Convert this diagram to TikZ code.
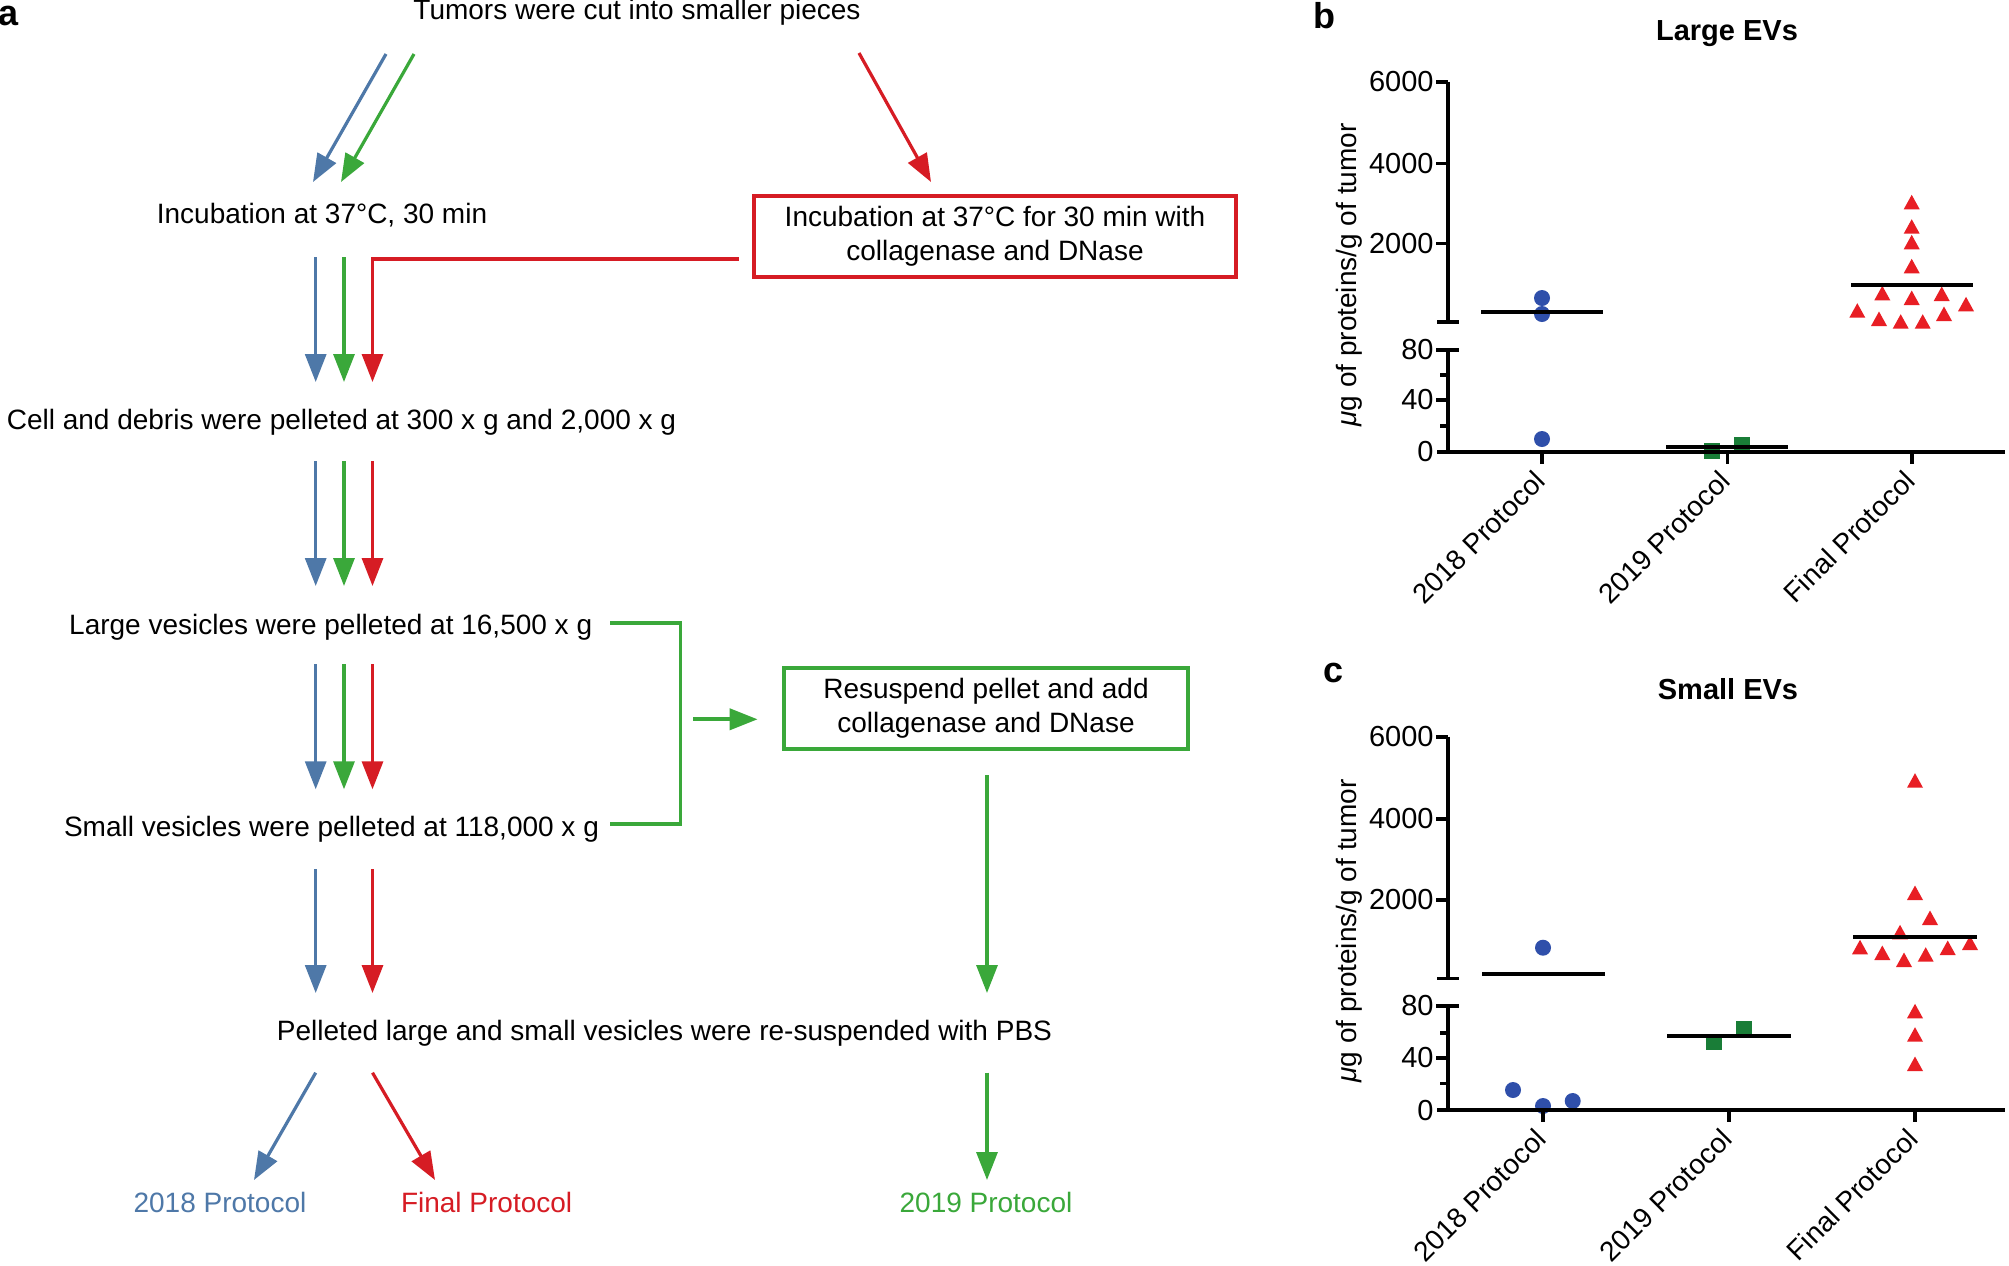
\documentclass[tikz,border=0pt]{standalone}
\usepackage{fontspec}
\setmainfont{Liberation Sans}
\usetikzlibrary{arrows.meta}
\definecolor{cblue}{RGB}{78,120,168}
\definecolor{cgreen}{RGB}{58,168,58}
\definecolor{cred}{RGB}{214,28,36}
\definecolor{dotblue}{RGB}{47,79,170}
\definecolor{sqgreen}{RGB}{25,125,55}
\definecolor{trired}{RGB}{232,30,36}
\begin{document}
\begin{tikzpicture}[x=0.5pt,y=-0.5pt,
  txt/.style={font=\fontsize{14}{17}\selectfont, inner sep=0pt},
  bx/.style={txt, draw, line width=2pt, align=center, minimum height=40.5pt},
  flow/.style={line width=1.6pt, -{Triangle[length=14pt,width=10.5pt]}},
  axisline/.style={line width=2pt},
  tk/.style={line width=1.8pt},
  meanline/.style={line width=2pt},
  ticklab/.style={font=\fontsize{14.5}{17}\selectfont, inner sep=0pt, anchor=east},
  catlab/.style={font=\fontsize{14}{17}\selectfont, inner sep=0pt, anchor=east, rotate=45},
  ttl/.style={font=\fontsize{14.5}{17}\selectfont\bfseries, inner sep=0pt, anchor=base},
  panel/.style={font=\fontsize{18}{20}\selectfont\bfseries, inner sep=0pt, anchor=base west},
  ylab/.style={font=\fontsize{14}{17}\selectfont, inner sep=0pt, rotate=90},
]
\useasboundingbox (0,0) rectangle (2009,1265);
\clip (0,0) rectangle (2009,1265);
\fill[white] (0,0) rectangle (2009,1265);

% ---------------- panel a ----------------
\node[panel] (la) at (-2,25) {a};
\node[txt, anchor=base] (tumor) at (637,19) {Tumors were cut into smaller pieces};
\node[txt, anchor=base] (incub) at (322,223) {Incubation at 37°C, 30 min};
\node[bx, draw=cred, minimum width=241pt] (redbox) at (995,236.5) {Incubation at 37°C for 30 min with\\collagenase and DNase};
\node[txt, anchor=base] (cell) at (341.5,429) {Cell and debris were pelleted at 300 x g and 2,000 x g};
\node[txt, anchor=base] (large) at (330.7,634) {Large vesicles were pelleted at 16,500 x g};
\node[bx, draw=cgreen, minimum width=202pt] (greenbox) at (986,708.5) {Resuspend pellet and add\\collagenase and DNase};
\node[txt, anchor=base] (small) at (331.5,836.5) {Small vesicles were pelleted at 118,000 x g};
\node[txt, anchor=base] (pbs) at (664.5,1040) {Pelleted large and small vesicles were re-suspended with PBS};
\node[txt, anchor=base, text=cblue] (p18) at (220,1212) {2018 Protocol};
\node[txt, anchor=base, text=cred] (pfin) at (486.6,1212) {Final Protocol};
\node[txt, anchor=base, text=cgreen] (p19) at (986,1212) {2019 Protocol};

% connector end points
\coordinate (tb) at (386,54);   \coordinate (ib) at (313,182);
\coordinate (tg) at (414,54);   \coordinate (ig) at (341,182);
\coordinate (tr) at (859,53);   \coordinate (ir) at (931,182);
\coordinate (rbout) at (738.5,259); \coordinate (c1r) at (372.5,382);
\coordinate (s1b) at (315.7,257); \coordinate (c1b) at (315.7,382);
\coordinate (s1g) at (344,257);   \coordinate (c1g) at (344,382);
\coordinate (s2b) at (315.7,461); \coordinate (e2b) at (315.7,586);
\coordinate (s2g) at (344,461);   \coordinate (e2g) at (344,586);
\coordinate (s2r) at (372.5,461); \coordinate (e2r) at (372.5,586);
\coordinate (s3b) at (315.7,664.3); \coordinate (e3b) at (315.7,789.3);
\coordinate (s3g) at (344,664.3);   \coordinate (e3g) at (344,789.3);
\coordinate (s3r) at (372.5,664.3); \coordinate (e3r) at (372.5,789.3);
\coordinate (s4b) at (315.7,869); \coordinate (e4b) at (315.7,993);
\coordinate (s4r) at (372.5,869); \coordinate (e4r) at (372.5,993);
\coordinate (gbout) at (987,775); \coordinate (e4g) at (987,993);
\coordinate (s5b) at (315.7,1072.7); \coordinate (e5b) at (254,1180);
\coordinate (s5r) at (372.5,1072.7); \coordinate (e5r) at (435,1180);
\coordinate (s5g) at (987,1072.7);   \coordinate (e5g) at (987,1180);
\coordinate (brA) at (610,623); \coordinate (brB) at (610,824);
\coordinate (brM) at (680.5,719.3);
\coordinate (gaS) at (693,719.3); \coordinate (gaE) at (757.6,719.3);

\draw[flow, cblue] (tb) -- (ib);
\draw[flow, cgreen] (tg) -- (ig);
\draw[flow, cred] (tr) -- (ir);
\draw[flow, cred] (rbout) -| (c1r);
\draw[flow, cblue] (s1b) -- (c1b);
\draw[flow, cgreen] (s1g) -- (c1g);
\draw[flow, cblue] (s2b) -- (e2b);
\draw[flow, cgreen] (s2g) -- (e2g);
\draw[flow, cred] (s2r) -- (e2r);
\draw[flow, cblue] (s3b) -- (e3b);
\draw[flow, cgreen] (s3g) -- (e3g);
\draw[flow, cred] (s3r) -- (e3r);
\draw[flow, cblue] (s4b) -- (e4b);
\draw[flow, cred] (s4r) -- (e4r);
\draw[flow, cgreen] (gbout) -- (e4g);
\draw[flow, cblue] (s5b) -- (e5b);
\draw[flow, cred] (s5r) -- (e5r);
\draw[flow, cgreen] (s5g) -- (e5g);
\draw[cgreen, line width=1.9pt] (brA) -| (brM) |- (brB);
\draw[flow, cgreen, line width=2pt] (gaS) -- (gaE);

% ---------------- panel b ----------------
\node[panel] (lb) at (1313,28) {b};
\node[ttl] (tb1) at (1727,40) {Large EVs};
\node[ylab] (yb) at (1349,275) {\textit{μ}g of proteins/g of tumor};
% markers
\foreach \x/\y in {1542/298,1542/314,1542/439}
  \fill[dotblue] (\x,\y) circle[radius=8];
\foreach \x/\y in {1712/450.7,1741.7/445}
  \fill[sqgreen] (\x,\y) ++(-8,-8) rectangle ++(16,16);
\foreach \x/\y in {1911.7/203.3,1911.7/227.7,1911.7/243.3,1911.7/267.3,1882.3/294.3,1911.7/299,1941.7/295,1966/305.3,1857.3/311.7,1879/320,1900.7/322.7,1922.7/322.7,1944/315}
  \fill[trired] (\x,\y) ++(0,-8.5) -- ++(8,14.5) -- ++(-16,0) -- cycle;
\draw[meanline] (1481,312) -- (1603,312);
\draw[meanline] (1666,447.3) -- (1788,447.3);
\draw[meanline] (1851,285.3) -- (1973,285.3);
% axes
\draw[axisline] (1448,81.7) -- (1448,321.7);
\draw[axisline] (1448,350) -- (1448,452);
\draw[axisline] (1437,452) -- (2005,452);
\foreach \y in {81.7,163.3,243.3,400} \draw[tk] (1436,\y) -- (1448,\y);
\foreach \y in {375,425.7} \draw[tk] (1440,\y) -- (1448,\y);
\draw[tk] (1437,321.7) -- (1459,321.7);
\draw[tk] (1436,350) -- (1459,350);
\foreach \x in {1542,1727.5,1912} \draw[tk] (\x,452) -- (\x,464);
\node[ticklab] (b6) at (1434,81.7) {6000};
\node[ticklab] (b4) at (1434,163.3) {4000};
\node[ticklab] (b2) at (1434,243.3) {2000};
\node[ticklab] (b80) at (1434,350) {80};
\node[ticklab] (b40) at (1434,400) {40};
\node[ticklab] (b0) at (1434,452) {0};
\node[catlab] (bc1) at (1540,476) {2018 Protocol};
\node[catlab] (bc2) at (1725.5,476) {2019 Protocol};
\node[catlab] (bc3) at (1910,476) {Final Protocol};

% ---------------- panel c ----------------
\node[panel] (lc) at (1323,682) {c};
\node[ttl] (tc1) at (1728,699) {Small EVs};
\node[ylab] (yc) at (1349,931) {\textit{μ}g of proteins/g of tumor};
\foreach \x/\y in {1543/947.7,1513/1090,1543/1106,1572.7/1101}
  \fill[dotblue] (\x,\y) circle[radius=8];
\foreach \x/\y in {1714/1041.7,1744/1029.3}
  \fill[sqgreen] (\x,\y) ++(-8,-8) rectangle ++(16,16);
\foreach \x/\y in {1915/781.7,1915/894,1930/919,1900/933.3,1860/948.3,1882.3/954,1904/961,1925.7/955.7,1947.7/949,1970/944,1915/1012.3,1915/1035.7,1915/1065}
  \fill[trired] (\x,\y) ++(0,-8.5) -- ++(8,14.5) -- ++(-16,0) -- cycle;
\draw[meanline] (1482,974) -- (1605,974);
\draw[meanline] (1667,1035.7) -- (1791,1035.7);
\draw[meanline] (1853,936.7) -- (1977,936.7);
\draw[axisline] (1448,736.7) -- (1448,978.3);
\draw[axisline] (1448,1006) -- (1448,1110);
\draw[axisline] (1437,1110) -- (2005,1110);
\foreach \y in {736.7,819,900,1057.7} \draw[tk] (1436,\y) -- (1448,\y);
\foreach \y in {1032.7,1083.3} \draw[tk] (1440,\y) -- (1448,\y);
\draw[tk] (1437,978.3) -- (1459,978.3);
\draw[tk] (1436,1006) -- (1459,1006);
\foreach \x in {1543,1729,1915} \draw[tk] (\x,1110) -- (\x,1122);
\node[ticklab] (c6) at (1434,736.7) {6000};
\node[ticklab] (c4) at (1434,819) {4000};
\node[ticklab] (c2) at (1434,900) {2000};
\node[ticklab] (c80) at (1434,1006) {80};
\node[ticklab] (c40) at (1434,1057.7) {40};
\node[ticklab] (c0) at (1434,1110) {0};
\node[catlab] (cc1) at (1541,1134) {2018 Protocol};
\node[catlab] (cc2) at (1727,1134) {2019 Protocol};
\node[catlab] (cc3) at (1913,1134) {Final Protocol};
\end{tikzpicture}
\end{document}
